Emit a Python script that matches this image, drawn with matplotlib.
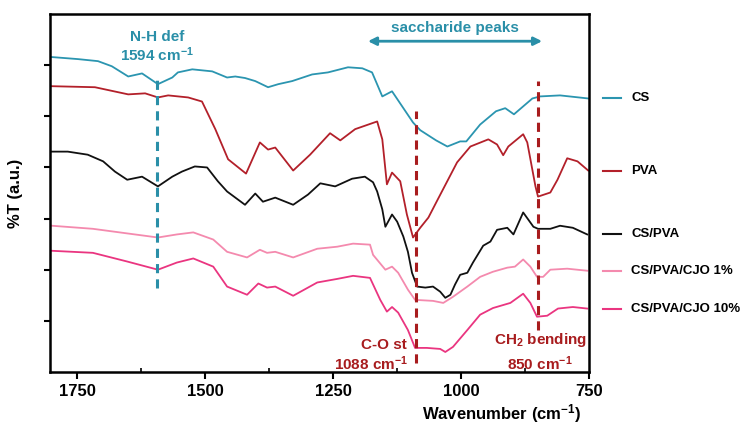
import matplotlib.pyplot as plt
from matplotlib import transforms

plt.rcParams['font.family'] = ['Liberation Sans', 'DejaVu Sans']
plt.rcParams['font.weight'] = 'bold'
plt.rcParams['axes.labelweight'] = 'bold'
plt.rcParams['mathtext.fontset'] = 'custom'
plt.rcParams['mathtext.rm'] = 'Liberation Sans:bold'
plt.rcParams['mathtext.it'] = 'Liberation Sans:bold'
plt.rcParams['mathtext.bf'] = 'Liberation Sans:bold'
plt.rcParams['mathtext.default'] = 'rm'

# espectros (numero de onda, %T deslocado)
wn_cs = [1799, 1748, 1709, 1682, 1650, 1623, 1592, 1564, 1553, 1525, 1486, 1457, 1441, 1422,
         1402, 1377, 1357, 1330, 1291, 1260, 1221, 1193, 1174, 1154, 1135, 1094, 1080, 1049,
         1027, 1002, 990, 963, 932, 914, 897, 861, 846, 807, 752]
t_cs = [6.16, 6.12, 6.08, 5.98, 5.78, 5.84, 5.63, 5.76, 5.86, 5.92, 5.88, 5.76, 5.78, 5.75,
        5.69, 5.57, 5.63, 5.69, 5.82, 5.86, 5.96, 5.94, 5.86, 5.39, 5.49, 4.88, 4.73, 4.53,
        4.41, 4.51, 4.51, 4.84, 5.10, 5.16, 5.04, 5.35, 5.39, 5.41, 5.35]

wn_pva = [1799, 1715, 1650, 1617, 1592, 1572, 1533, 1506, 1480, 1455, 1420, 1393, 1377, 1363,
          1328, 1295, 1256, 1236, 1207, 1164, 1154, 1145, 1135, 1119, 1106, 1094, 1080, 1064,
          1047, 1008, 982, 947, 930, 918, 908, 879, 871, 855, 850, 826, 812, 793, 773, 752]
t_pva = [5.59, 5.57, 5.43, 5.45, 5.37, 5.41, 5.37, 5.29, 4.75, 4.16, 3.88, 4.49, 4.35, 4.39,
         3.94, 4.25, 4.67, 4.53, 4.75, 4.90, 4.55, 3.67, 3.90, 3.73, 3.08, 2.63, 2.82, 3.02,
         3.35, 4.10, 4.41, 4.55, 4.45, 4.24, 4.41, 4.65, 4.49, 3.63, 3.43, 3.51, 3.76, 4.18,
         4.12, 3.94]

wn_cspva = [1799, 1768, 1729, 1699, 1676, 1652, 1623, 1592, 1564, 1545, 1520, 1496, 1475, 1457,
            1422, 1402, 1387, 1363, 1328, 1299, 1275, 1246, 1213, 1188, 1172, 1164, 1154, 1148,
            1135, 1125, 1113, 1104, 1096, 1086, 1070, 1055, 1041, 1031, 1021, 1012, 1002, 988,
            977, 957, 943, 930, 910, 898, 879, 859, 850, 826, 807, 782, 754]
t_cspva = [4.31, 4.31, 4.25, 4.12, 3.92, 3.76, 3.82, 3.63, 3.82, 3.92, 4.02, 4.00, 3.73, 3.53,
           3.27, 3.49, 3.33, 3.41, 3.27, 3.47, 3.69, 3.63, 3.78, 3.82, 3.71, 3.53, 3.18, 2.84,
           3.08, 2.94, 2.65, 2.35, 1.94, 1.67, 1.65, 1.67, 1.57, 1.45, 1.51, 1.71, 1.90, 1.94,
           2.14, 2.47, 2.55, 2.78, 2.82, 2.69, 3.12, 2.84, 2.80, 2.80, 2.86, 2.82, 2.69]

wn_cjo1 = [1799, 1719, 1652, 1592, 1555, 1523, 1484, 1457, 1418, 1393, 1379, 1363, 1328, 1281,
           1242, 1211, 1178, 1172, 1148, 1135, 1123, 1104, 1090, 1055, 1035, 1016, 988, 963,
           938, 910, 895, 879, 865, 852, 840, 826, 793, 754]
t_cjo1 = [2.86, 2.80, 2.71, 2.63, 2.69, 2.73, 2.59, 2.35, 2.24, 2.39, 2.33, 2.35, 2.24, 2.41,
          2.45, 2.51, 2.49, 2.29, 2.00, 2.06, 1.94, 1.61, 1.41, 1.39, 1.35, 1.47, 1.67, 1.86,
          1.96, 2.04, 2.06, 2.20, 2.06, 1.86, 1.86, 2.00, 2.02, 1.98]

wn_cjo10 = [1799, 1719, 1652, 1592, 1555, 1523, 1484, 1457, 1418, 1396, 1379, 1363, 1328, 1281,
            1242, 1211, 1178, 1158, 1145, 1135, 1123, 1104, 1090, 1067, 1041, 1031, 1016, 988,
            963, 938, 904, 879, 865, 852, 832, 811, 782, 754]
t_cjo10 = [2.37, 2.33, 2.16, 2.00, 2.14, 2.22, 2.06, 1.67, 1.51, 1.73, 1.65, 1.67, 1.49, 1.75,
           1.82, 1.88, 1.84, 1.41, 1.18, 1.27, 1.16, 0.82, 0.47, 0.47, 0.45, 0.39, 0.49, 0.82,
           1.12, 1.25, 1.35, 1.53, 1.35, 1.08, 1.10, 1.24, 1.27, 1.24]

nomes = ['CS', 'PVA', 'CS/PVA', 'CS/PVA/CJO 1%', 'CS/PVA/CJO 10%']
cores = ['#2B95B0', '#B3202A', '#111111', '#F48AAE', '#EA3580']
xs = [wn_cs, wn_pva, wn_cspva, wn_cjo1, wn_cjo10]
ys = [t_cs, t_pva, t_cspva, t_cjo1, t_cjo10]

teal = '#2A8FA8'
vermelho = '#A81C1E'

fig = plt.figure(figsize=(7.44, 4.28), dpi=100)
ax = fig.add_axes([0.067, 0.131, 0.725, 0.836])

for x, y, c in zip(xs, ys, cores):
    ax.plot(x, y, color=c, linewidth=1.3)

# rotulos a direita, alinhados com o fim de cada curva
trans = transforms.blended_transform_factory(ax.transAxes, ax.transData)
for nome, y, c in zip(nomes, ys, cores):
    ax.plot([1.026, 1.058], [y[-1], y[-1]], color=c, linewidth=1.5,
            transform=trans, clip_on=False)
    ax.text(1.078, y[-1], nome, transform=trans, fontsize=9.5, va='center', ha='left')

# linhas tracejadas das bandas
ax.plot([1594, 1594], [1.65, 5.78], color=teal, linestyle=(0, (3, 2)), linewidth=2.2)
ax.plot([1088, 1088], [0.18, 5.10], color=vermelho, linestyle=(0, (3, 2)), linewidth=2.2)
ax.plot([850, 850], [0.82, 5.69], color=vermelho, linestyle=(0, (3, 2)), linewidth=2.2)

ax.text(1594, 6.56, 'N-H def', color=teal, fontsize=11, ha='center', va='center')
ax.text(1594, 6.20, '1594 cm$^{-1}$', color=teal, fontsize=11, ha='center', va='center')

ax.annotate('', xy=(1182, 6.47), xytext=(842, 6.47),
            arrowprops=dict(arrowstyle='<|-|>', color=teal, lw=2, mutation_scale=12,
                            shrinkA=0, shrinkB=0))
ax.text(1012, 6.72, 'saccharide peaks', color=teal, fontsize=11, ha='center', va='center')

ax.text(1106, 0.53, 'C-O st', color=vermelho, fontsize=11, ha='right', va='center')
ax.text(1103, 0.17, '1088 cm$^{-1}$', color=vermelho, fontsize=11, ha='right', va='center')
ax.text(846, 0.62, 'CH$_2$ bending', color=vermelho, fontsize=11, ha='center', va='center')
ax.text(846, 0.17, '850 cm$^{-1}$', color=vermelho, fontsize=11, ha='center', va='center')

ax.set_xlim(1803, 750)
ax.set_ylim(0, 7)
ax.set_xticks([1750, 1500, 1250, 1000, 750])
ax.set_xticks([1625, 1375, 1125, 875], minor=True)
ax.set_yticks([1, 2, 3, 4, 5, 6])
ax.set_yticklabels([])
ax.tick_params(axis='x', which='major', direction='out', length=5, width=1.5, labelsize=12)
ax.tick_params(axis='x', which='minor', direction='in', length=3, width=1.2)
ax.tick_params(axis='y', which='major', direction='out', length=4, width=1.5)
for s in ax.spines.values():
    s.set_linewidth(1.8)

ax.set_xlabel('Wavenumber (cm$^{-1}$)', fontsize=12)
ax.xaxis.set_label_coords(0.837, -0.085)
ax.set_ylabel('%T (a.u.)', fontsize=12, labelpad=12)

fig.savefig('out.png', dpi=100)
